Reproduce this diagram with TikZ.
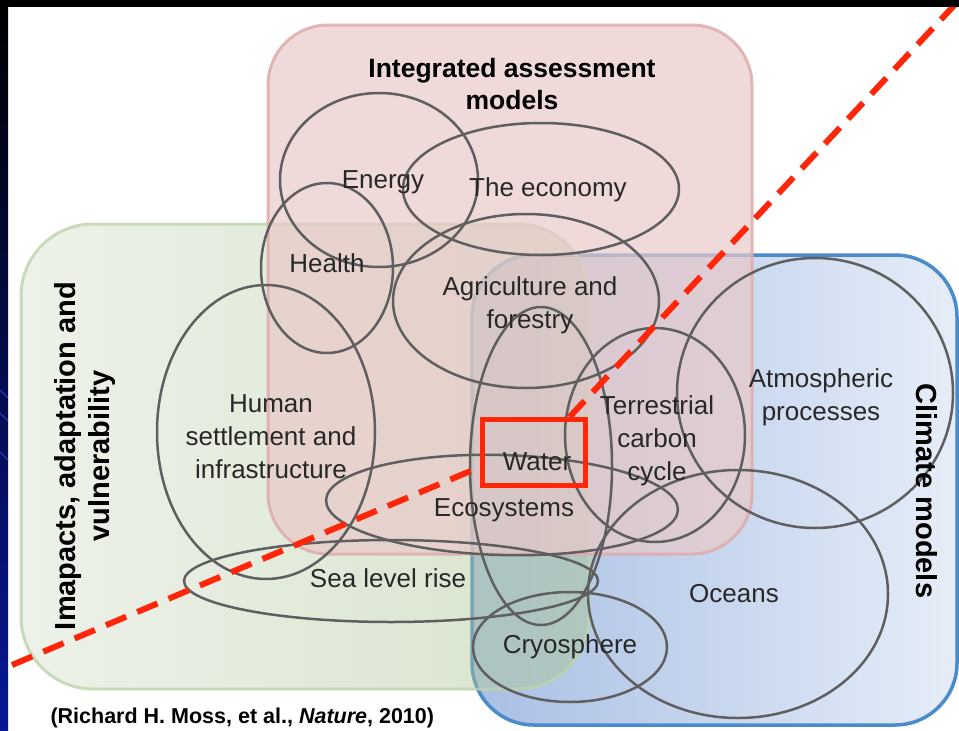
\documentclass[tikz,border=0pt]{standalone}
\usepackage{fontspec}
\setmainfont{Liberation Sans}

\definecolor{ringgray}{RGB}{95,95,95}
\definecolor{labelgray}{RGB}{40,40,40}
\definecolor{iamfill}{RGB}{234,201,201}
\definecolor{iamedge}{RGB}{222,172,172}
\definecolor{iavleft}{RGB}{217,226,208}
\definecolor{iavright}{RGB}{168,195,142}
\definecolor{iavedge}{RGB}{190,212,172}
\definecolor{cmleft}{RGB}{168,191,228}
\definecolor{cmright}{RGB}{230,237,248}
\definecolor{cmedge}{RGB}{74,139,202}
\definecolor{hilite}{RGB}{255,38,10}
\definecolor{slidenavy}{RGB}{8,24,150}
\definecolor{slidestreak}{RGB}{40,70,210}

\begin{document}
\begin{tikzpicture}
  [x=1pt,y=-1pt,
   every node/.style={text=labelgray,align=center,font=\fontsize{26}{33}\selectfont},
   boxtitle/.style={text=black,font=\fontsize{29}{34}\selectfont\bfseries},
   ring/.style={draw=ringgray,line width=2.5pt},
   cutline/.style={draw=hilite,line width=6pt,dash pattern=on 22pt off 12pt}]
  \useasboundingbox (0,0) rectangle (959,731);
  \fill[white] (0,0) rectangle (959,731);
  % the three model families
  \shade[left color=cmleft,right color=cmright,rounded corners=62pt] (472,255) rectangle (957,725);
  \draw[cmedge,line width=3.5pt,rounded corners=62pt] (472,255) rectangle (957,725);
  \shade[left color=iavleft,right color=iavright,fill opacity=.45,rounded corners=72pt] (21,224) rectangle (589,689);
  \draw[iavedge,line width=3pt,draw opacity=.8,rounded corners=72pt] (21,224) rectangle (589,689);
  \fill[iamfill,fill opacity=.7,rounded corners=60pt] (268,25) rectangle (752,554);
  \draw[iamedge,line width=3pt,draw opacity=.85,rounded corners=60pt] (268,25) rectangle (752,554);
  % component models
  \foreach \cx/\cy/\rx/\ry in {379/180/99/87, 541/189/138/66, 327/268/66/85, 526/301/133/87,
      266/432/109/147, 541/466/71/159, 655/435/90/107, 815/393/138/135,
      738/594/150/124, 391/581/207/41, 570/647/97/55}
    \draw[ring] (\cx,\cy) ellipse [x radius=\rx, y radius=\ry];
  \draw[ring,rotate around={-1.6:(502,505)}] (502,505) ellipse [x radius=176, y radius=50];
  \node (iam) at (512,84) [boxtitle,font=\fontsize{26.5}{32}\selectfont\bfseries] {Integrated assessment\\models};
  \node (iav) at (85,456) [boxtitle,rotate=90] {Imapacts, adaptation and\\vulnerability};
  \node (cm) at (927,491) [boxtitle,rotate=-90] {Climate models};
  \node (energy) at (383,182) {Energy};
  \node (econ) at (548,190) {The economy};
  \node (health) at (327,263) {Health};
  \node (agri) at (530,305) {Agriculture and\\forestry};
  \node (human) at (271,437) {Human\\settlement and\\infrastructure};
  \node (water) at (537,462) {Water};
  \node (terr) at (657,441) {Terrestrial\\carbon\\cycle};
  \node (atmo) at (821,397) {Atmospheric\\processes};
  \node (eco) at (504,510) {Ecosystems};
  \node (sea) at (388,578) {Sea level rise};
  \node (ocean) at (734,594) {Oceans};
  \node (cryo) at (570,647) {Cryosphere};
  \node (wbox) at (534,452.5) [draw=hilite,line width=5pt,inner sep=0pt,minimum width=103pt,minimum height=66pt] {};
  % the cut through water
  \coordinate (cutlow) at (12,665);
  \coordinate (cuthigh) at (962,-3);
  \draw[cutline] (cutlow) -- (wbox.195);
  \draw[cutline] (wbox.45) -- (cuthigh);
  \node (src) at (47,718) [anchor=west,text=black,font=\fontsize{21.5}{26}\selectfont\bfseries] {(Richard H. Moss, et al., \textit{Nature}, 2010)};
  % slide frame
  \fill[black] (0,0) rectangle (959,7);
  \shade[top color=black,bottom color=slidenavy] (0,0) rectangle (8,731);
  \foreach \sy in {390,413,452}
    \draw[slidestreak,line width=.8pt] (0,\sy) -- (8,\sy+8);
\end{tikzpicture}
\end{document}
